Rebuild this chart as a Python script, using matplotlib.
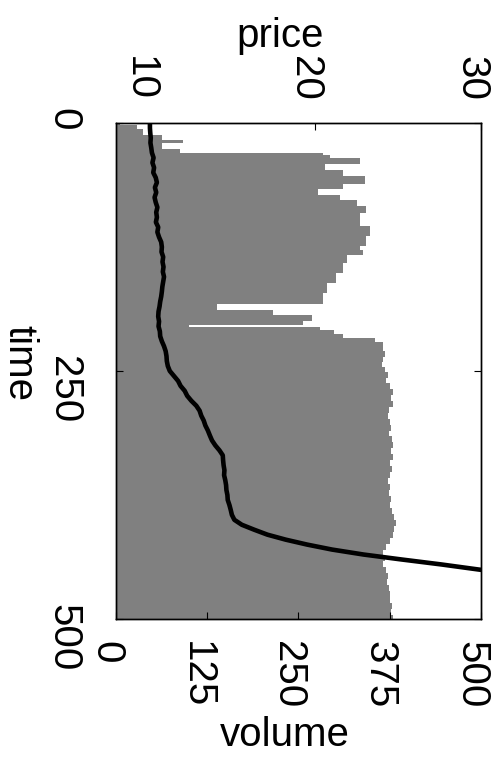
import matplotlib
matplotlib.use("Agg")
import matplotlib.pyplot as plt
from matplotlib.transforms import ScaledTranslation
import numpy as np

plt.rcParams['font.family'] = ['Liberation Sans', 'DejaVu Sans']

# Traded volume: step levels, each holding from its start time to the next one
volume_start = [0, 2, 6, 12, 17, 20, 26, 30, 32, 35, 41, 47, 53, 61, 67, 73, 78, 84,
                91, 104, 114, 124, 128, 133, 141, 151, 161, 171, 182, 188.5, 193.5,
                200, 203.5, 206, 209, 213, 217, 221, 230, 236, 241, 246, 251, 257,
                262, 268, 274, 280, 286, 292, 298, 304, 310, 316, 322, 328, 334, 340,
                346, 352, 358, 364, 370, 376, 382, 388, 394, 400, 406, 412, 418, 424,
                430, 436, 442, 448, 454, 460, 466, 472, 478, 484, 490, 496]
volume_level = [5, 29, 37, 63, 92, 63, 88, 284, 293, 334, 286, 311, 341, 311, 277, 307,
                330, 343, 334, 348, 343, 334, 338, 316, 311, 302, 289, 284, 138, 215,
                269, 256, 100, 280, 298, 311, 355, 366, 368, 366, 364, 369, 372, 370,
                375, 379, 377, 380, 374, 372, 375, 377, 374, 378, 380, 377, 379, 376,
                378, 375, 373, 376, 374, 377, 375, 378, 381, 383, 381, 379, 376, 370,
                366, 368, 366, 370, 372, 371, 374, 376, 375, 378, 377, 379]

# Price path over time
price_time = [0, 5, 10, 15, 20, 25, 30, 35, 40, 45, 50, 55, 60, 65, 70, 75, 80, 85, 90,
              95, 100, 105, 110, 115, 120, 125, 130, 135, 140, 145, 150, 155, 160, 165,
              170, 175, 180, 185, 190, 195, 200, 205, 210, 215, 220, 225, 230, 235, 240,
              245, 250, 255, 260, 265, 270, 275, 280, 285, 290, 295, 300, 305, 310, 315,
              320, 325, 330, 335, 340, 345, 350, 355, 360, 365, 370, 375, 380, 385, 390,
              395, 400, 405, 410, 415, 420, 425, 430, 435, 440, 445, 450, 455]
price = [10.00, 10.00, 10.02, 10.05, 10.03, 10.08, 10.12, 10.22, 10.15, 10.25, 10.20,
         10.35, 10.42, 10.30, 10.38, 10.28, 10.35, 10.45, 10.38, 10.42, 10.36, 10.50,
         10.45, 10.55, 10.68, 10.72, 10.70, 10.80, 10.76, 10.82, 10.78, 10.85, 10.80,
         10.75, 10.72, 10.68, 10.62, 10.58, 10.52, 10.50, 10.55, 10.52, 10.60, 10.62,
         10.72, 10.85, 10.95, 11.00, 11.02, 11.08, 11.20, 11.45, 11.70, 11.85, 12.10,
         12.25, 12.50, 12.80, 13.00, 13.10, 13.25, 13.35, 13.50, 13.62, 13.75, 13.95,
         14.20, 14.40, 14.42, 14.45, 14.50, 14.48, 14.55, 14.60, 14.62, 14.68, 14.70,
         14.80, 14.88, 14.95, 15.10, 15.55, 16.30, 17.10, 18.20, 19.50, 21.00, 22.90,
         25.20, 27.60, 29.80, 32.10]

time_ticks = [0, 250, 500]
volume_ticks = [0, 125, 250, 375, 500]
price_ticks = [10, 20, 30]

FS = 29
W, H = 502, 762
fig = plt.figure(figsize=(W / 100, H / 100), dpi=100)
left, right, top, bottom = 116, 481, 123, 619
ax = fig.add_axes([left / W, 1 - bottom / H, (right - left) / W, (bottom - top) / H])

# volume area (time runs down the vertical axis)
t_edges = np.append(volume_start, 500)
v_vals = np.append(volume_level, volume_level[-1])
ax.fill_betweenx(t_edges, 0, v_vals, step='post', color='#808080', linewidth=0)
ax.set_xlim(0, 500)
ax.set_ylim(500, 0)
ax.set_xticks(volume_ticks)
ax.set_yticks(time_ticks)
ax.tick_params(axis='both', direction='in', length=5, width=0.8, labelsize=FS,
               colors='black')
ax.tick_params(axis='x', labelrotation=-90, pad=16)
ax.tick_params(axis='y', labelrotation=-90, pad=24, right=True)

# price on the top axis
ax2 = ax.twiny()
ax2.plot(price, price_time, color='black', linewidth=3.3, solid_joinstyle='round')
ax2.set_xlim(7.95, 30)
ax2.set_ylim(500, 0)
ax2.set_xticks(price_ticks)
ax2.tick_params(axis='x', direction='in', length=5, width=0.8, labelsize=FS,
                labelrotation=-90, pad=16)

# nudge the rotated horizontal-axis labels so the digits sit on their ticks
shift = ScaledTranslation(-10 / 100, 0, fig.dpi_scale_trans)
for lab in ax.get_xticklabels() + ax2.get_xticklabels():
    lab.set_transform(lab.get_transform() + shift)

for a in (ax, ax2):
    for s in a.spines.values():
        s.set_linewidth(1.0)
        s.set_color('black')

fig.text(280 / W, 1 - 36 / H, 'price', ha='center', va='center', fontsize=FS)
fig.text(285 / W, 1 - 735 / H, 'volume', ha='center', va='center', fontsize=FS)
fig.text(19 / W, 1 - 363 / H, 'time', ha='center', va='center', fontsize=FS,
         rotation=-90)

fig.savefig('out.png', dpi=100)
